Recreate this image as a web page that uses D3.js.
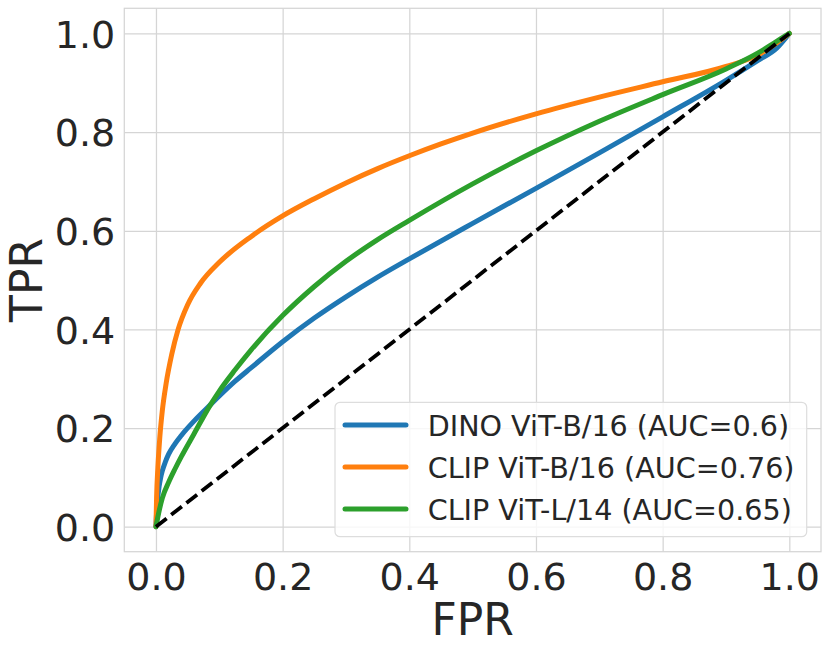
<!DOCTYPE html>
<html>
<head>
<meta charset="utf-8">
<script src="https://cdn.jsdelivr.net/npm/d3@7"></script>
<style>
  body { margin: 0; background: #fff; }
  text { font-family: "DejaVu Sans", sans-serif; fill: #262626; }
</style>
</head>
<body>
<div id="chart"></div>
<script>
// ROC curves
const dinoFpr = [0, 0.001, 0.0025, 0.005, 0.0075, 0.01, 0.015, 0.02, 0.03, 0.04, 0.06, 0.085, 0.1, 0.125, 0.15, 0.2, 0.25, 0.3, 0.35, 0.4, 0.5, 0.6, 0.7, 0.8, 0.9, 0.95, 0.98, 1.0];
const dinoTpr = [0, 0.03, 0.055, 0.082, 0.1, 0.113, 0.132, 0.147, 0.168, 0.185, 0.214, 0.246, 0.265, 0.295, 0.322, 0.375, 0.423, 0.466, 0.506, 0.543, 0.615, 0.686, 0.758, 0.831, 0.905, 0.945, 0.97, 1.0];

const clipBFpr = [0, 0.001, 0.003, 0.006, 0.01, 0.016, 0.025, 0.035, 0.05, 0.07, 0.1, 0.15, 0.2, 0.25, 0.3, 0.35, 0.4, 0.45, 0.5, 0.6, 0.7, 0.8, 0.9, 0.95, 1.0];
const clipBTpr = [0, 0.06, 0.12, 0.18, 0.235, 0.29, 0.35, 0.40, 0.45, 0.493, 0.536, 0.588, 0.63, 0.665, 0.697, 0.726, 0.752, 0.776, 0.798, 0.837, 0.871, 0.902, 0.933, 0.956, 1.0];

const clipLFpr = [0, 0.005, 0.01, 0.02, 0.03, 0.04, 0.06, 0.085, 0.1, 0.125, 0.15, 0.2, 0.25, 0.3, 0.35, 0.4, 0.5, 0.6, 0.7, 0.8, 0.9, 0.95, 0.98, 1.0];
const clipLTpr = [0, 0.032, 0.058, 0.09, 0.117, 0.142, 0.188, 0.245, 0.275, 0.318, 0.358, 0.428, 0.487, 0.538, 0.582, 0.621, 0.695, 0.762, 0.822, 0.876, 0.928, 0.96, 0.984, 1.0];

const seriesNames = ["DINO ViT-B/16 (AUC=0.6)", "CLIP ViT-B/16 (AUC=0.76)", "CLIP ViT-L/14 (AUC=0.65)"];
const seriesColors = ["#1f77b4", "#ff7f0e", "#2ca02c"];
const chanceLine = [0, 1];
const tickValues = [0, 0.2, 0.4, 0.6, 0.8, 1.0];

const W = 830, H = 653;
const margin = {top: 8.3, right: 9, bottom: 101.3, left: 124.3};
const width = W - margin.left - margin.right;
const height = H - margin.top - margin.bottom;

const svg = d3.select("#chart").append("svg")
    .attr("width", W).attr("height", H);
const g = svg.append("g")
    .attr("transform", `translate(${margin.left},${margin.top})`);

const xScale = d3.scaleLinear().domain([-0.05, 1.05]).range([0, width]);
const yScale = d3.scaleLinear().domain([-0.0507, 1.051]).range([height, 0]);

// grid lines + tick labels
g.append("g")
    .attr("transform", `translate(0,${height})`)
    .call(d3.axisBottom(xScale).tickValues(tickValues).tickSize(-height).tickFormat(d3.format(".1f")).tickPadding(9))
    .call(a => a.select(".domain").remove())
    .call(a => a.selectAll("line").attr("stroke", "#d5d5d5").attr("stroke-width", 1.25))
    .call(a => a.selectAll("text").attr("font-size", 38).attr("fill", "#262626").attr("dy", "0.76em"));

g.append("g")
    .call(d3.axisLeft(yScale).tickValues(tickValues).tickSize(-width).tickFormat(d3.format(".1f")).tickPadding(9))
    .call(a => a.select(".domain").remove())
    .call(a => a.selectAll("line").attr("stroke", "#d5d5d5").attr("stroke-width", 1.25))
    .call(a => a.selectAll("text").attr("font-size", 38).attr("fill", "#262626").attr("dy", "0.36em"));

// frame
g.append("rect")
    .attr("width", width).attr("height", height)
    .attr("fill", "none").attr("stroke", "#d5d5d5").attr("stroke-width", 1.25);

// clip
svg.append("clipPath").attr("id", "clip")
    .append("rect").attr("width", width).attr("height", height);

const plot = g.append("g").attr("clip-path", "url(#clip)");

const line = d3.line()
    .x(d => xScale(d[0]))
    .y(d => yScale(d[1]))
    .curve(d3.curveMonotoneX);

const curves = [
    d3.zip(dinoFpr, dinoTpr),
    d3.zip(clipBFpr, clipBTpr),
    d3.zip(clipLFpr, clipLTpr)
];

plot.selectAll(".roc")
    .data(curves)
    .join("path")
    .attr("class", "roc")
    .attr("d", line)
    .attr("fill", "none")
    .attr("stroke", (d, i) => seriesColors[i])
    .attr("stroke-width", 5)
    .attr("stroke-linecap", "round")
    .attr("stroke-linejoin", "round");

plot.append("path")
    .attr("d", d3.line().x(d => xScale(d)).y(d => yScale(d))(chanceLine))
    .attr("fill", "none")
    .attr("stroke", "#000")
    .attr("stroke-width", 3.8)
    .attr("stroke-dasharray", "13.5,5.8");

// axis labels
svg.append("text")
    .attr("x", margin.left + width / 2).attr("y", 635)
    .attr("text-anchor", "middle").attr("font-size", 44)
    .text("FPR");

svg.append("text")
    .attr("transform", `translate(42,${margin.top + height / 2}) rotate(-90)`)
    .attr("text-anchor", "middle").attr("font-size", 44)
    .text("TPR");

// legend
const legend = svg.append("g");
legend.append("rect")
    .attr("x", 335).attr("y", 402.3)
    .attr("width", 471.7).attr("height", 134.4)
    .attr("rx", 5)
    .attr("fill", "#fff").attr("fill-opacity", 0.8)
    .attr("stroke", "#dddddd").attr("stroke-width", 1.2);

const rows = legend.selectAll(".item")
    .data(seriesNames)
    .join("g")
    .attr("class", "item")
    .attr("transform", (d, i) => `translate(345,${425 + i * 42})`);

rows.append("line")
    .attr("x1", 0).attr("x2", 61)
    .attr("stroke", (d, i) => seriesColors[i])
    .attr("stroke-width", 5)
    .attr("stroke-linecap", "round");

rows.append("text")
    .attr("x", 82.7).attr("y", 10.5)
    .attr("font-size", 28.6)
    .text(d => d);
</script>
</body>
</html>
